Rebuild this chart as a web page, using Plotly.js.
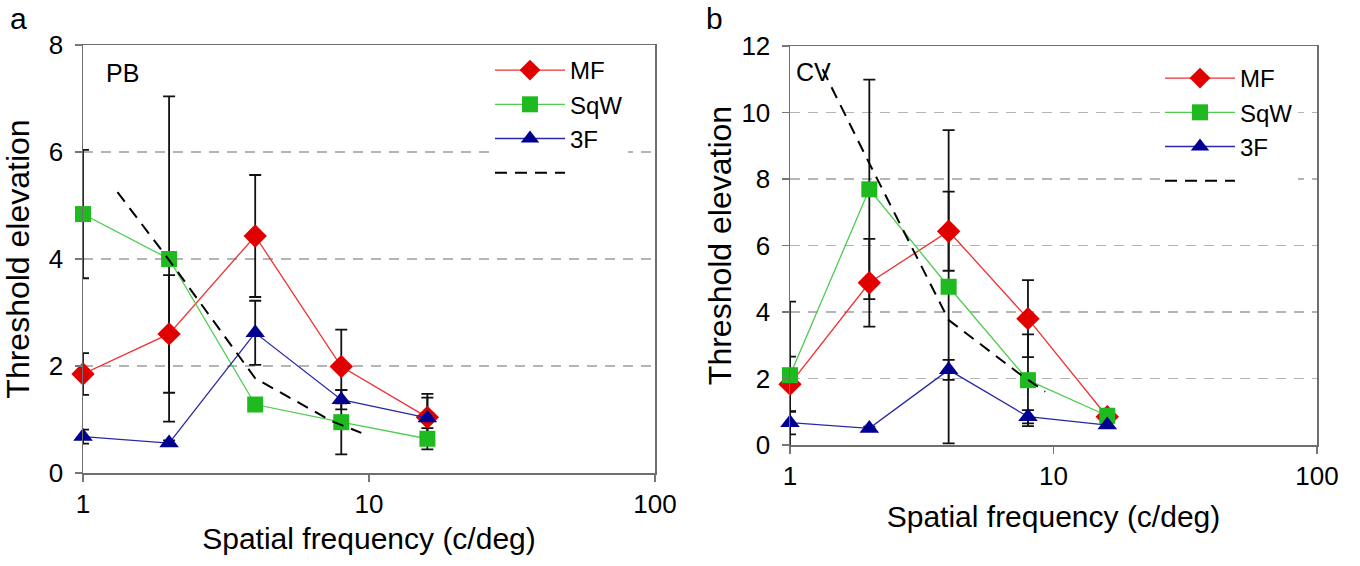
<!DOCTYPE html>
<html>
<head>
<meta charset="utf-8">
<script src="https://cdn.plot.ly/plotly-3.0.1.min.js"></script>
<style>html,body{margin:0;padding:0;background:#fff;}#chart{width:1360px;height:566px;}</style>
</head>
<body>
<div id="chart"></div>
<script>
// ---- data ----
const freq = [1, 2, 4, 8, 16];
const xTickVals = [1, 10, 100];
const xTickText = ['1', '10', '100'];

// Panel a: PB
const pbMF = [1.85, 2.60, 4.43, 1.99, 1.04];
const pbMFErr = [0.39, 1.10, 1.14, 0.69, 0.44];
const pbSqW = [4.84, 4.00, 1.28, 0.95, 0.64];
const pbSqWErr = [1.20, 3.04, 0.10, 0.60, 0.20];
const pb3F = [0.68, 0.56, 2.62, 1.37, 1.03];
const pb3FErr = [0.13, 0.05, 0.60, 0.18, 0.38];
const pbModelX = [1.32, 2, 4, 7.4, 9.4];
const pbModelY = [5.25, 3.98, 1.77, 0.97, 0.75];

// Panel b: CV
const cvMF = [1.83, 4.88, 6.43, 3.80, 0.85];
const cvMFErr = [0.83, 1.32, 1.19, 1.16, 0.10];
const cvSqW = [2.10, 7.69, 4.76, 1.95, 0.88];
const cvSqWErr = [2.21, 3.30, 4.71, 1.38, 0.10];
const cv3F = [0.67, 0.50, 2.26, 0.85, 0.60];
const cv3FErr = [0.35, 0.05, 0.30, 0.20, 0.05];
const cvModelX = [1.33, 2, 4, 7.4, 9.3];
const cvModelY = [11.3, 8.47, 3.76, 2.15, 1.60];

const seriesNames = ['MF', 'SqW', '3F'];

// ---- styles ----
const FONT = '"Liberation Sans", Arial, Helvetica, sans-serif';
const styles = {
  MF:  {line: '#f03030', marker: '#e00000', symbol: 'diamond', size: 18},
  SqW: {line: '#50cc50', marker: '#1fba1f', symbol: 'square', size: 16},
  '3F': {line: '#2828a8', marker: '#000090', symbol: 'triangle-up', size: 17}
};

function errTrace(x, y, err, xa, ya) {
  return {
    x: x, y: y, xaxis: xa, yaxis: ya, type: 'scatter', mode: 'markers',
    marker: {size: 1, opacity: 0}, showlegend: false, hoverinfo: 'skip', cliponaxis: false,
    error_y: {type: 'data', array: err, visible: true, color: '#111', thickness: 1.8, width: 6}
  };
}
function seriesTrace(name, x, y, xa, ya, legend) {
  const s = styles[name];
  return {
    x: x, y: y, xaxis: xa, yaxis: ya, type: 'scatter', mode: 'lines+markers', name: name,
    legend: legend, legendgroup: legend + name, cliponaxis: false,
    line: {color: s.line, width: 1.3},
    marker: {symbol: s.symbol, size: s.size, color: s.marker, line: {width: 0}}
  };
}
function modelTrace(x, y, xa, ya, legend) {
  return {
    x: x, y: y, xaxis: xa, yaxis: ya, type: 'scatter', mode: 'lines', name: ' ',
    legend: legend, legendgroup: legend + 'model',
    line: {color: '#000', width: 2, dash: '12px,8px'}
  };
}

const pbSeries = {MF: [pbMF, pbMFErr], SqW: [pbSqW, pbSqWErr], '3F': [pb3F, pb3FErr]};
const cvSeries = {MF: [cvMF, cvMFErr], SqW: [cvSqW, cvSqWErr], '3F': [cv3F, cv3FErr]};

const traces = [];
seriesNames.forEach(n => traces.push(errTrace(freq, pbSeries[n][0], pbSeries[n][1], 'x', 'y')));
seriesNames.forEach(n => traces.push(errTrace(freq, cvSeries[n][0], cvSeries[n][1], 'x2', 'y2')));
seriesNames.forEach(n => traces.push(seriesTrace(n, freq, pbSeries[n][0], 'x', 'y', 'legend')));
traces.push(modelTrace(pbModelX, pbModelY, 'x', 'y', 'legend'));
seriesNames.forEach(n => traces.push(seriesTrace(n, freq, cvSeries[n][0], 'x2', 'y2', 'legend2')));
traces.push(modelTrace(cvModelX, cvModelY, 'x2', 'y2', 'legend2'));

const W = 1360, H = 566;
function xAxis(domain, standoff) {
  return {
    domain: domain, type: 'log', range: [0, 2], tickvals: xTickVals, ticktext: xTickText,
    ticks: 'outside', ticklen: 7, tickcolor: '#777', tickwidth: 1.5,
    showline: true, linecolor: '#6e6e6e', linewidth: 1.5, mirror: true,
    showgrid: false, zeroline: false, ticklabelstandoff: 0,
    tickfont: {family: FONT, size: 26, color: '#000'},
    title: {text: 'Spatial frequency (c/deg)', font: {family: FONT, size: 30, color: '#000'}, standoff: standoff},
    automargin: false
  };
}
function yAxis(domain, max, standoff) {
  return {
    domain: domain, range: [0, max], dtick: 2, tick0: 0,
    ticks: 'outside', ticklen: 7, tickcolor: '#777', tickwidth: 1.5,
    showline: true, linecolor: '#6e6e6e', linewidth: 1.5, mirror: true,
    showgrid: true, gridcolor: '#b4b4b4', gridwidth: 1.5, griddash: '10px,8px',
    zeroline: false, ticklabelstandoff: 6,
    tickfont: {family: FONT, size: 26, color: '#000'},
    title: {text: 'Threshold elevation', font: {family: FONT, size: 32, color: '#000'}, standoff: standoff},
    automargin: false
  };
}

const layout = {
  width: W, height: H,
  margin: {l: 0, r: 0, t: 0, b: 0},
  paper_bgcolor: '#fff', plot_bgcolor: '#fff',
  showlegend: true,
  xaxis: xAxis([83 / W, 655 / W], 10),
  yaxis: yAxis([1 - 473 / H, 1 - 45 / H], 8, 9),
  xaxis2: Object.assign(xAxis([790 / W, 1317 / W], 16), {anchor: 'y2'}),
  yaxis2: Object.assign(yAxis([1 - 445 / H, 1 - 46 / H], 12, 0), {anchor: 'x2'}),
  legend: {
    x: 490 / W, y: 1 - 48 / H, xanchor: 'left', yanchor: 'top',
    bgcolor: '#fff', borderwidth: 0, traceorder: 'grouped', tracegroupgap: 0,
    itemwidth: 70, font: {family: FONT, size: 24, color: '#000'}
  },
  legend2: {
    x: 1160 / W, y: 1 - 56 / H, xanchor: 'left', yanchor: 'top',
    bgcolor: '#fff', borderwidth: 0, traceorder: 'grouped', tracegroupgap: 0,
    itemwidth: 70, font: {family: FONT, size: 24, color: '#000'}
  },
  annotations: [
    {text: 'a', x: 8 / W, y: 1 - 18 / H, xref: 'paper', yref: 'paper', xanchor: 'left', yanchor: 'middle', showarrow: false, font: {family: FONT, size: 30, color: '#000'}},
    {text: 'b', x: 704 / W, y: 1 - 18 / H, xref: 'paper', yref: 'paper', xanchor: 'left', yanchor: 'middle', showarrow: false, font: {family: FONT, size: 30, color: '#000'}},
    {text: 'PB', x: 104 / W, y: 1 - 73 / H, xref: 'paper', yref: 'paper', xanchor: 'left', yanchor: 'middle', showarrow: false, font: {family: FONT, size: 25, color: '#000'}},
    {text: 'CV', x: 794 / W, y: 1 - 72 / H, xref: 'paper', yref: 'paper', xanchor: 'left', yanchor: 'middle', showarrow: false, font: {family: FONT, size: 25, color: '#000'}}
  ]
};

Plotly.newPlot('chart', traces, layout, {displayModeBar: false, staticPlot: true});
</script>
</body>
</html>
